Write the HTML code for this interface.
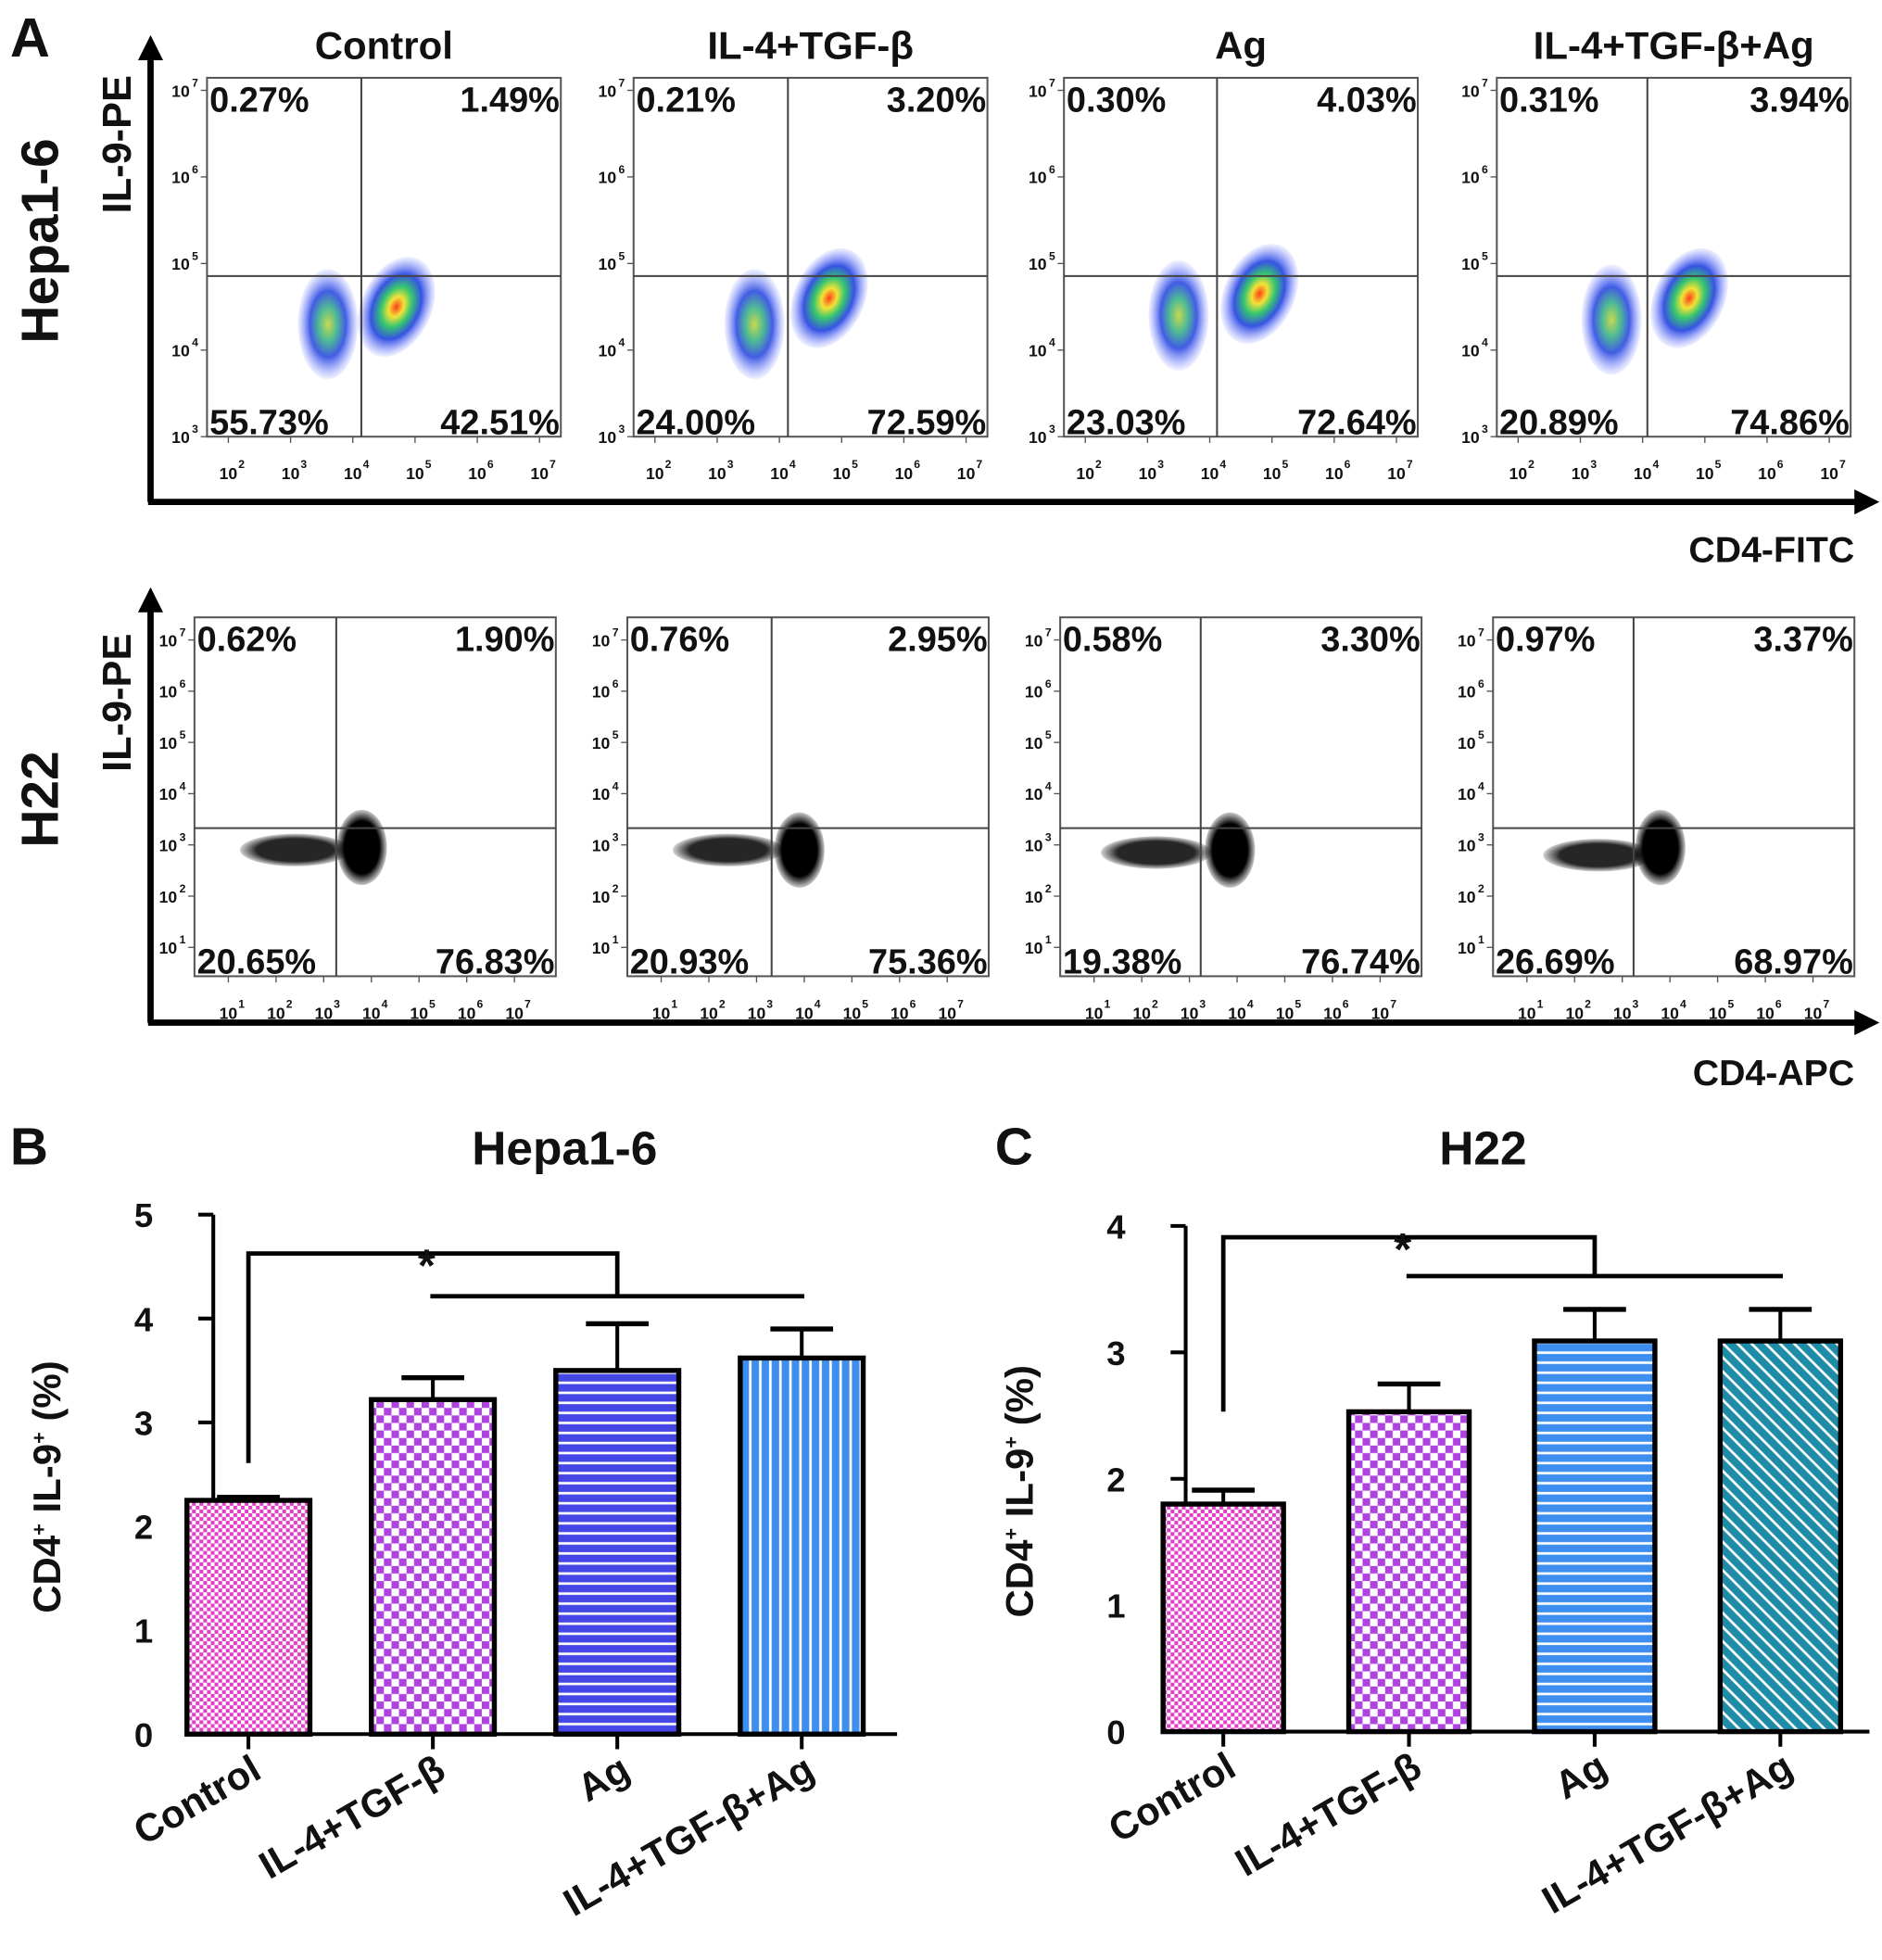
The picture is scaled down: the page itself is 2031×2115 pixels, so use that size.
<!DOCTYPE html>
<html><head><meta charset="utf-8"><style>
html,body{margin:0;padding:0;background:#fff}
svg{display:block}
text{font-family:"Liberation Sans",Arial,sans-serif;font-weight:bold;fill:#111}
</style></head><body>
<svg id="fig" width="2031" height="2115" viewBox="0 0 1500 1562" preserveAspectRatio="none" xmlns="http://www.w3.org/2000/svg">
<defs>
<pattern id="pPink" width="6" height="6" patternUnits="userSpaceOnUse"><rect width="6" height="6" fill="#fff"/><rect width="3" height="3" fill="#e23cc8"/><rect x="3" y="3" width="3" height="3" fill="#e23cc8"/></pattern>
<pattern id="pPurple" width="12" height="12" patternUnits="userSpaceOnUse"><rect width="12" height="12" fill="#fff"/><rect width="6" height="6" fill="#b043e0"/><rect x="6" y="6" width="6" height="6" fill="#b043e0"/></pattern>
<pattern id="pBlueH" width="8" height="8" patternUnits="userSpaceOnUse"><rect width="8" height="8" fill="#4646e6"/><rect y="5" width="8" height="2" fill="#fff"/></pattern>
<pattern id="pLBlueV" width="8" height="8" patternUnits="userSpaceOnUse"><rect width="8" height="8" fill="#3e8ef0"/><rect x="5" width="2" height="8" fill="#fff"/></pattern>
<pattern id="pLBlueH" width="8" height="8" patternUnits="userSpaceOnUse"><rect width="8" height="8" fill="#3e8ef0"/><rect y="5" width="8" height="2" fill="#fff"/></pattern>
<pattern id="pTeal" width="8" height="8" patternUnits="userSpaceOnUse" patternTransform="rotate(-45)"><rect width="8" height="8" fill="#1e8ca6"/><rect x="5" width="2" height="8" fill="#fff"/></pattern>
<radialGradient id="gDens"><stop offset="0" stop-color="#ff2a00"/><stop offset="0.2" stop-color="#f0e020"/><stop offset="0.4" stop-color="#20c060"/><stop offset="0.65" stop-color="#2040e0"/><stop offset="1" stop-color="#6070ff" stop-opacity="0.1"/></radialGradient>
<radialGradient id="gDensLow"><stop offset="0" stop-color="#c0d030"/><stop offset="0.3" stop-color="#30b080"/><stop offset="0.6" stop-color="#2040e0"/><stop offset="1" stop-color="#6070ff" stop-opacity="0.1"/></radialGradient>
<radialGradient id="gBlack"><stop offset="0" stop-color="#000"/><stop offset="0.7" stop-color="#000"/><stop offset="1" stop-color="#000" stop-opacity="0.2"/></radialGradient>
<marker id="arr" viewBox="0 0 10 10" refX="5" refY="5" markerWidth="4" markerHeight="4" orient="auto"><path d="M0,0 L10,5 L0,10 z" fill="#000"/></marker>
</defs>

<text x="8" y="45" font-size="44">A</text>
<text x="8" y="928" font-size="42">B</text>
<text x="793" y="928" font-size="42">C</text>

<g>
<line x1="120" y1="400" x2="120" y2="38" stroke="#000" stroke-width="5" marker-end="url(#arr)"/>
<line x1="118" y1="400" x2="1488" y2="400" stroke="#000" stroke-width="5" marker-end="url(#arr)"/>
</g>
<g>
<line x1="120" y1="815" x2="120" y2="478" stroke="#000" stroke-width="5" marker-end="url(#arr)"/>
<line x1="118" y1="815" x2="1488" y2="815" stroke="#000" stroke-width="5" marker-end="url(#arr)"/>
</g>
<text x="1478" y="448" font-size="29" text-anchor="end">CD4-FITC</text>
<text x="1478" y="865" font-size="29" text-anchor="end">CD4-APC</text>
<text transform="translate(46,192) rotate(-90)" font-size="42" text-anchor="middle">Hepa1-6</text>
<text transform="translate(104,115) rotate(-90)" font-size="32" text-anchor="middle">IL-9-PE</text>
<text transform="translate(46,637) rotate(-90)" font-size="42" text-anchor="middle">H22</text>
<text transform="translate(104,560) rotate(-90)" font-size="32" text-anchor="middle">IL-9-PE</text>

<g id="flow"></g>
<g id="barB"></g>
<g id="barC"></g>

<text x="450" y="928" font-size="38" text-anchor="middle">Hepa1-6</text>
<text x="1182" y="928" font-size="38" text-anchor="middle">H22</text>
</svg>
<script>
const NS="http://www.w3.org/2000/svg";
function mk(tag,attrs,parent,txt){const e=document.createElementNS(NS,tag);for(const k in attrs)e.setAttribute(k,attrs[k]);if(txt!==undefined)e.textContent=txt;parent.appendChild(e);return e;}

const flowTitles=["Control","IL-4+TGF-β","Ag","IL-4+TGF-β+Ag"];
const row1Pct=[["0.27%","1.49%","55.73%","42.51%"],["0.21%","3.20%","24.00%","72.59%"],["0.30%","4.03%","23.03%","72.64%"],["0.31%","3.94%","20.89%","74.86%"]];
const row2Pct=[["0.62%","1.90%","20.65%","76.83%"],["0.76%","2.95%","20.93%","75.36%"],["0.58%","3.30%","19.38%","76.74%"],["0.97%","3.37%","26.69%","68.97%"]];
const row1BoxX=[165,505,848,1193];
const row2BoxX=[155,500,845,1190];
const row1Gate=[288,628,970,1313];
const row2Gate=[268,615,957,1302];
const row1ClusterA=[[3.6,4.3],[3.6,4.3],[3.5,4.4],[3.5,4.35]];
const row1ClusterB=[[4.7,4.5],[4.8,4.6],[4.8,4.65],[4.75,4.6]];
const row2ClusterA=[[2.4,2.9],[2.4,2.9],[2.3,2.85],[2.5,2.8]];
const row2ClusterB=[[3.8,2.95],[3.9,2.9],[3.85,2.9],[3.8,2.95]];

const flow=document.getElementById('flow');
function panel(i,row){
  const g=mk('g',{},flow);
  
  
  const bx=row===1?row1BoxX[i]:row2BoxX[i], by=row===1?62:492, bw=row===1?282:288, bh=286;
  const gx=row===1?row1Gate[i]:row2Gate[i], gy=row===1?220:660;
  const pct=row===1?row1Pct[i]:row2Pct[i];
  let xs,ys;
  if(row===1){ xs=d=>bx+17+(d-2)*((430-182)/5)*(bw/282); ys=d=>by+286-(d-3)*(276/4);}
  else { xs=d=>bx+27+(d-1)*((bw-60)/6); ys=d=>by+263-(d-1)*(245/6);}
  mk('rect',{x:bx,y:by,width:bw,height:bh,fill:'#fff',stroke:'#555','stroke-width':1.5},g);
  const ca=row===1?row1ClusterA[i]:row2ClusterA[i], cb=row===1?row1ClusterB[i]:row2ClusterB[i];
  if(row===1){
    mk('ellipse',{cx:xs(ca[0]),cy:ys(ca[1]),rx:24,ry:44,fill:'url(#gDensLow)',opacity:0.85},g);
    mk('ellipse',{cx:xs(cb[0]),cy:ys(cb[1]),rx:28,ry:42,fill:'url(#gDens)',opacity:0.9,transform:`rotate(25 ${xs(cb[0])} ${ys(cb[1])})`},g);
  } else {
    mk('ellipse',{cx:xs(ca[0]),cy:ys(ca[1]),rx:44,ry:13,fill:'url(#gBlack)',opacity:0.85},g);
    mk('ellipse',{cx:xs(cb[0]),cy:ys(cb[1]),rx:20,ry:30,fill:'url(#gBlack)'},g);
  }
  mk('line',{x1:gx,y1:by,x2:gx,y2:by+bh,stroke:'#444','stroke-width':1.5},g);
  mk('line',{x1:bx,y1:gy,x2:bx+bw,y2:gy,stroke:'#444','stroke-width':1.5},g);
  const yd=row===1?[3,4,5,6,7]:[1,2,3,4,5,6,7];
  yd.forEach(d=>{const y=ys(d);
    mk('text',{x:bx-21,y:y+5,'font-size':13,'text-anchor':'middle','font-weight':'normal'},g,'10');
    mk('text',{x:bx-12,y:y-3,'font-size':9,'font-weight':'normal'},g,String(d));
    mk('line',{x1:bx-5,y1:y,x2:bx,y2:y,stroke:'#555'},g);});
  const xd=row===1?[2,3,4,5,6,7]:[1,2,3,4,5,6,7];
  xd.forEach(d=>{const x=xs(d);
    mk('text',{x:x,y:by+bh+34,'font-size':13,'text-anchor':'middle','font-weight':'normal'},g,'10');
    mk('text',{x:x+8,y:by+bh+25,'font-size':9,'font-weight':'normal'},g,String(d));
    mk('line',{x1:x,y1:by+bh,x2:x,y2:by+bh+5,stroke:'#555'},g);});
  const fs=28;
  const t1=mk('text',{x:bx+2,y:by+27,'font-size':fs},g,pct[0]);
  
  
  const t2=mk('text',{x:bx+bw-1,y:by+27,'font-size':fs,'text-anchor':'end'},g,pct[1]);
  
  
  const t3=mk('text',{x:bx+2,y:by+bh-2,'font-size':fs},g,pct[2]);
  
  
  const t4=mk('text',{x:bx+bw-1,y:by+bh-2,'font-size':fs,'text-anchor':'end'},g,pct[3]);
  
  
  if(row===1){
    const tt=mk('text',{x:bx+bw/2,y:47,'font-size':31,'text-anchor':'middle'},g,flowTitles[i]);
    
    
  }
}
for(let i=0;i<4;i++){panel(i,1);panel(i,2);}

const barCategories=["Control","IL-4+TGF-β","Ag","IL-4+TGF-β+Ag"];
const hepaMeans=[2.25,3.22,3.5,3.62];
const hepaErrors=[0.03,0.21,0.45,0.28];
const h22Means=[1.8,2.53,3.09,3.09];
const h22Errors=[0.11,0.22,0.25,0.25];
const hepaTicks=[0,1,2,3,4,5];
const h22Ticks=[0,1,2,3,4];

function barChart(gid,cfg){
  const g=document.getElementById(gid);
  
  
  const y=v=>cfg.y0-(v/cfg.max)*(cfg.y0-cfg.yTop);
  const x=i=>cfg.x0+cfg.first+i*cfg.step;
  const ya=mk('line',{x1:cfg.x0,y1:cfg.yTop,x2:cfg.x0,y2:cfg.y0+1.5,stroke:'#000','stroke-width':3},g);
  
  
  const xa=mk('line',{x1:cfg.x0-1.5,y1:cfg.y0,x2:cfg.xEnd,y2:cfg.y0,stroke:'#000','stroke-width':3},g);
  
  
  cfg.ticks.forEach(t=>{
    mk('line',{x1:cfg.x0-12,y1:y(t),x2:cfg.x0,y2:y(t),stroke:'#000','stroke-width':3},g);
    const tl=mk('text',{x:cfg.x0-48,y:y(t)+10,'font-size':27,'text-anchor':'end'},g,String(t));
    
    
  });
  const yt=mk('text',{transform:`translate(${cfg.x0-122},${(cfg.y0+cfg.yTop)/2+10}) rotate(-90)`,'font-size':31,'text-anchor':'middle'},g);
  
  
  yt.innerHTML='CD4<tspan dy="-12" font-size="16">+</tspan><tspan dy="12"> IL-9</tspan><tspan dy="-12" font-size="16">+</tspan><tspan dy="12"> (%)</tspan>';
  cfg.means.forEach((m,i)=>{
    const cx=x(i), w=cfg.bw;
    const eb=mk('g',{},g);
    
    
    mk('line',{x1:cx,y1:y(m),x2:cx,y2:y(m+cfg.err[i]),stroke:'#000','stroke-width':3},eb);
    mk('line',{x1:cx-25,y1:y(m+cfg.err[i]),x2:cx+25,y2:y(m+cfg.err[i]),stroke:'#000','stroke-width':4},eb);
    const r=mk('rect',{x:cx-w/2,y:y(m),width:w,height:cfg.y0-y(m),fill:cfg.fills[i],stroke:'#000','stroke-width':4},g);
    
    
    mk('line',{x1:cx,y1:cfg.y0,x2:cx,y2:cfg.y0+12,stroke:'#000','stroke-width':3},g);
    const lab=mk('text',{transform:`translate(${cx+12},${cfg.y0+34}) rotate(-30)`,'font-size':31,'text-anchor':'end'},g,barCategories[i]);
    
    
  });
  const s=mk('g',{},g);
  
  
  mk('path',{d:`M${x(0)},${cfg.sigStart} V${cfg.sigTop} H${x(2)} V${cfg.sigLow}`,fill:'none',stroke:'#000','stroke-width':3.5},s);
  mk('line',{x1:x(1)-2,y1:cfg.sigLow,x2:x(3)+2,y2:cfg.sigLow,stroke:'#000','stroke-width':3.5},s);
  mk('text',{x:(x(0)+x(2))/2-5,y:cfg.sigTop+22,'font-size':36,'text-anchor':'middle'},s,'*');
}
barChart('barB',{name:'hepa-bar-chart',x0:170,y0:1382,yTop:968,max:5,xEnd:715,first:28,step:147,bw:98,
  means:hepaMeans,err:hepaErrors,ticks:hepaTicks,fills:['url(#pPink)','url(#pPurple)','url(#pBlueH)','url(#pLBlueV)'],
  sigStart:1166,sigTop:999,sigLow:1033});
barChart('barC',{name:'h22-bar-chart',x0:945,y0:1380,yTop:977,max:4,xEnd:1490,first:30,step:148,bw:96,
  means:h22Means,err:h22Errors,ticks:h22Ticks,fills:['url(#pPink)','url(#pPurple)','url(#pLBlueH)','url(#pTeal)'],
  sigStart:1125,sigTop:986,sigLow:1017});
</script>
</body></html>
